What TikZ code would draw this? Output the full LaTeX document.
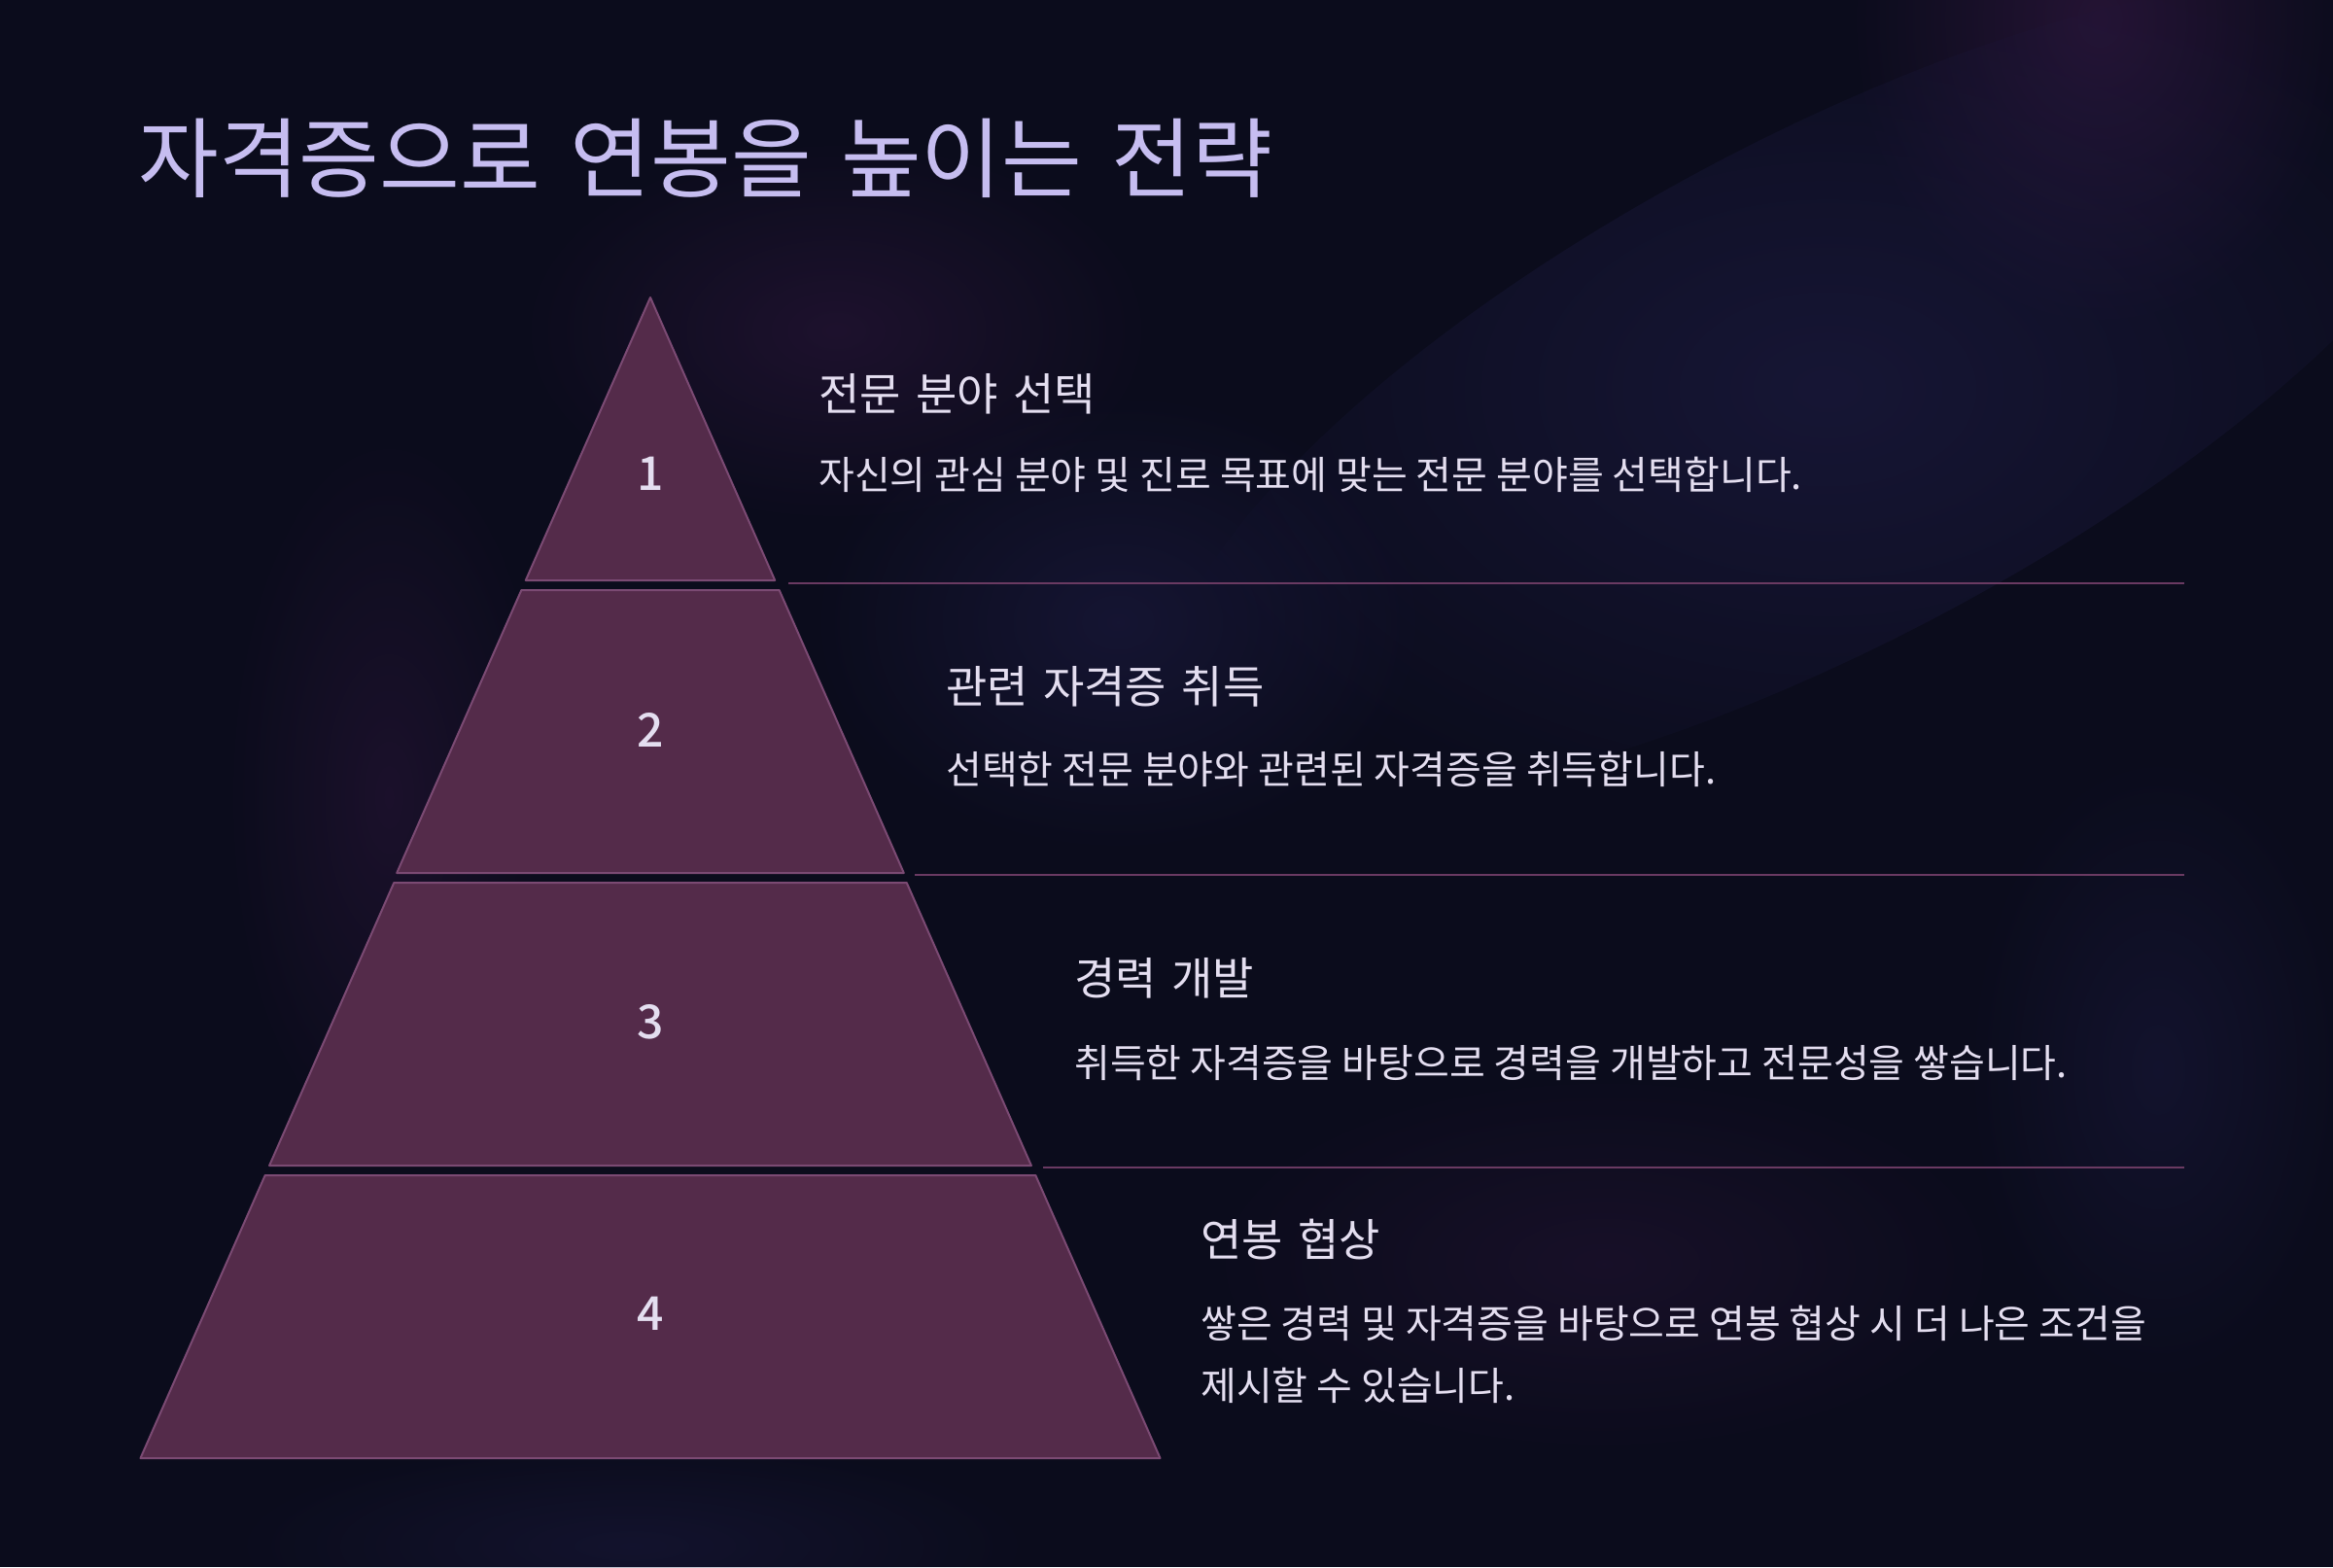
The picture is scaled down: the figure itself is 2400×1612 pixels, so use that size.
\documentclass[tikz,border=0pt]{standalone}
\usepackage{fontspec}
\setmainfont{Noto Sans CJK KR}
\newfontfamily\titlefont[WordSpace=1.6]{Noto Sans CJK KR}
\newfontfamily\headfont[WordSpace=1.5]{Noto Sans CJK KR}
\newfontfamily\numfont{Noto Sans CJK KR Medium}
\usetikzlibrary{fadings}
\tikzfading[name=myglowfade, inner color=transparent!0, outer color=transparent!100]
\definecolor{bg}{HTML}{0B0C1C}
\definecolor{titlec}{HTML}{C6BDF0}
\definecolor{txtc}{HTML}{E4DEF0}
\definecolor{pyrfill}{HTML}{542B4A}
\definecolor{pyrline}{HTML}{7B4A73}
\definecolor{divc}{HTML}{6A3A62}
\definecolor{glowp}{HTML}{3A1A48}
\definecolor{glowb}{HTML}{22204E}
\tikzset{
  band/.style={fill=pyrfill, draw=pyrline, line width=2pt, line join=round},
  divline/.style={draw=divc, line width=2.2pt},
  numtxt/.style={text=txtc, anchor=base, font=\numfont\fontsize{48}{56}\selectfont, inner sep=0pt},
  headtxt/.style={text=txtc, anchor=base west, font=\headfont\fontsize{46}{54}\selectfont, inner sep=0pt},
  desctxt/.style={text=txtc, anchor=base west, font=\fontsize{40}{64}\selectfont, inner sep=0pt, align=left},
  glow/.style={path fading=myglowfade}
}
\begin{document}
\begin{tikzpicture}[x=1pt,y=-1pt]
\fill[bg] (0,0) rectangle (2400,1612);
\useasboundingbox (0,0) rectangle (2400,1612);
% background glows
\begin{scope}
\clip (0,0) rectangle (2400,1612);
\fill[glowp, opacity=0.55, glow] (2160,20) ellipse (260 and 320);
\fill[glowb, opacity=0.5, glow, rotate around={28:(1880,400)}] (1880,400) ellipse (760 and 260);
\fill[glowp, opacity=0.4, glow] (860,340) ellipse (330 and 200);
\fill[glowb, opacity=0.45, glow] (1150,640) ellipse (320 and 240);
\fill[glowp, opacity=0.35, glow] (400,820) ellipse (170 and 380);
\fill[glowb, opacity=0.35, glow] (2220,1100) ellipse (200 and 330);
\fill[glowp, opacity=0.28, glow] (1650,1300) ellipse (420 and 200);
\fill[glowb, opacity=0.35, glow] (650,1590) ellipse (420 and 110);
\end{scope}
% title
\node[text=titlec, anchor=base west, inner sep=0pt, font=\titlefont\fontsize{90}{106}\selectfont] (title) at (142,196) {자격증으로 연봉을 높이는 전략};
% pyramid bands
\draw[band] (669,306) -- (797.2,597) -- (540.8,597) -- cycle;
\draw[band] (536.4,607) -- (801.6,607) -- (929.8,898) -- (408.2,898) -- cycle;
\draw[band] (405.3,908) -- (932.7,908) -- (1060.9,1199) -- (277.1,1199) -- cycle;
\draw[band] (272.7,1209) -- (1065.3,1209) -- (1193.5,1500) -- (144.5,1500) -- cycle;
% dividers
\coordinate (d1s) at (811,600); \coordinate (d1e) at (2247,600);
\coordinate (d2s) at (941,900); \coordinate (d2e) at (2247,900);
\coordinate (d3s) at (1073,1201); \coordinate (d3e) at (2247,1201);
\draw[divline] (d1s) -- (d1e);
\draw[divline] (d2s) -- (d2e);
\draw[divline] (d3s) -- (d3e);
% numbers
\node[numtxt] (n1) at (669,504) {1};
\node[numtxt] (n2) at (669,768) {2};
\node[numtxt] (n3) at (669,1068) {3};
\node[numtxt] (n4) at (669,1368) {4};
% texts
\node[headtxt] (h1) at (842,422) {전문 분야 선택};
\node[desctxt] (t1) at (842,503) {자신의 관심 분야 및 진로 목표에 맞는 전문 분야를 선택합니다.};
\node[headtxt] (h2) at (973,723) {관련 자격증 취득};
\node[desctxt] (t2) at (973,806) {선택한 전문 분야와 관련된 자격증을 취득합니다.};
\node[headtxt] (h3) at (1105,1023) {경력 개발};
\node[desctxt] (t3) at (1105,1108) {취득한 자격증을 바탕으로 경력을 개발하고 전문성을 쌓습니다.};
\node[headtxt] (h4) at (1235,1292) {연봉 협상};
\node[desctxt] (t4) at (1235,1440) {쌓은 경력 및 자격증을 바탕으로 연봉 협상 시 더 나은 조건을\\제시할 수 있습니다.};
\end{tikzpicture}
\end{document}
